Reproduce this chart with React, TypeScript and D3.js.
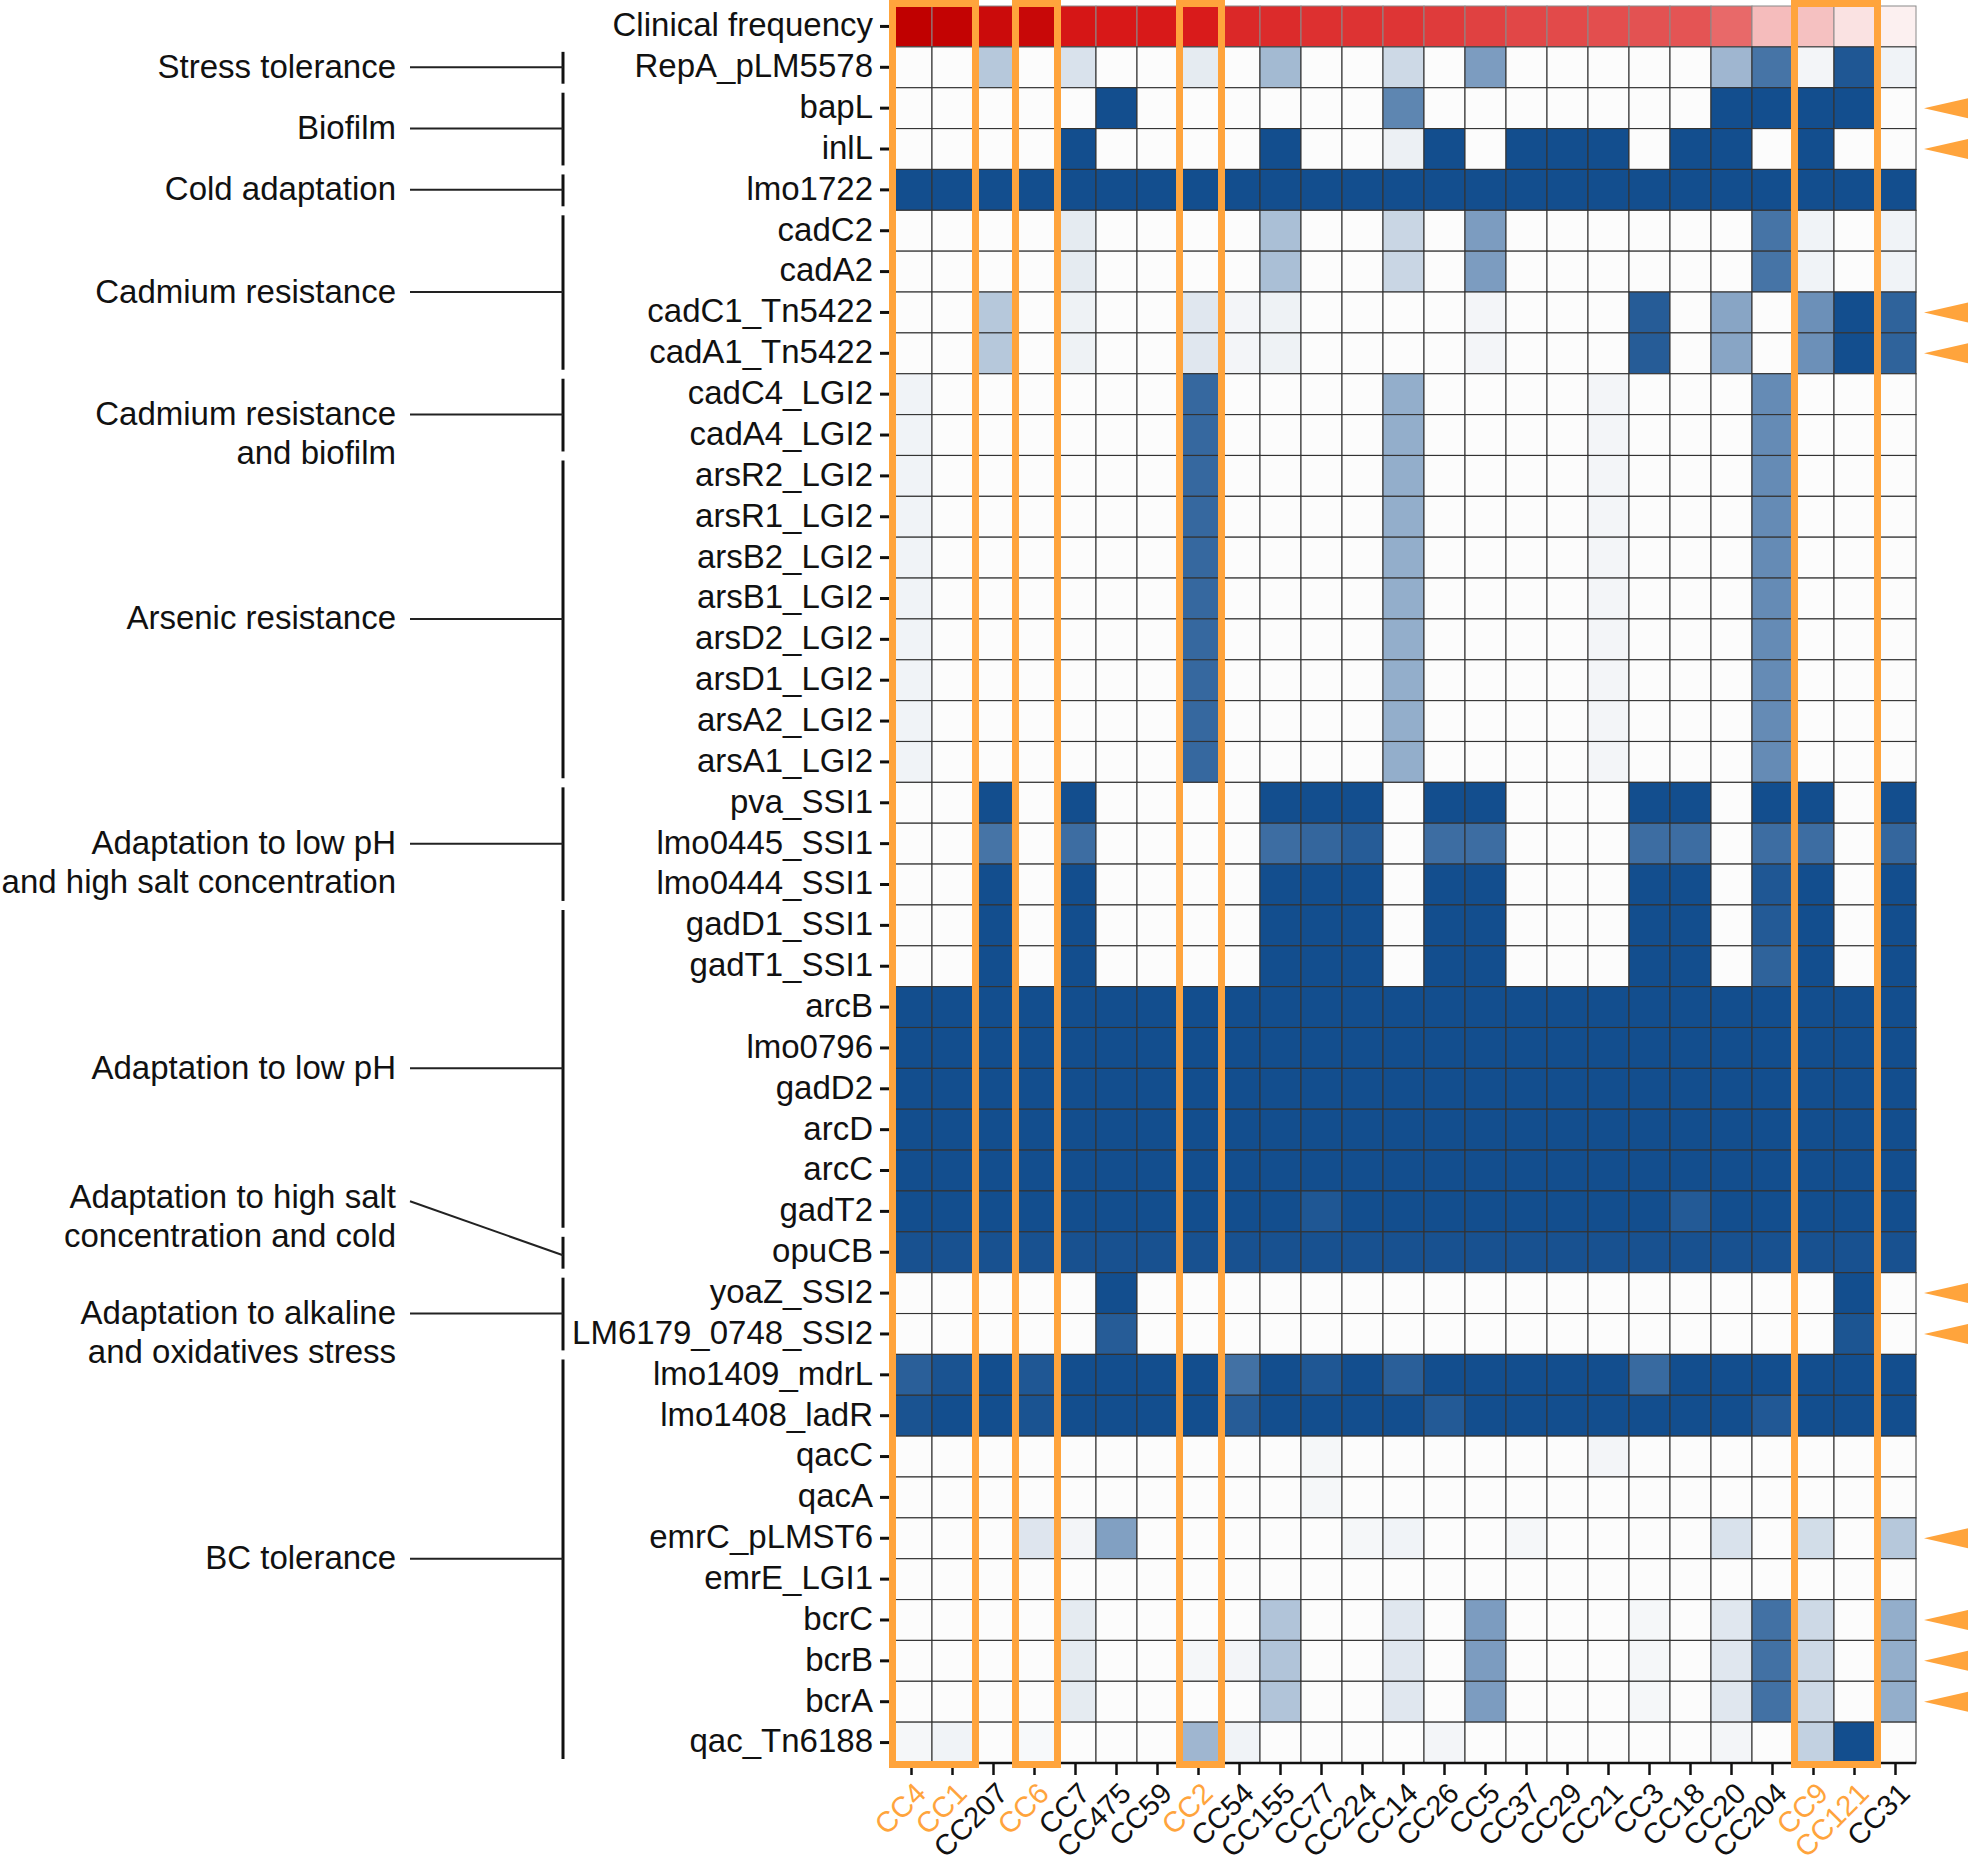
import { useEffect } from 'react'
import * as d3 from 'd3'

const ccs = [
  'CC4', 'CC1', 'CC207', 'CC6', 'CC7', 'CC475', 'CC59', 'CC2', 'CC54', 'CC155',
  'CC77', 'CC224', 'CC14', 'CC26', 'CC5', 'CC37', 'CC29', 'CC21', 'CC3', 'CC18',
  'CC20', 'CC204', 'CC9', 'CC121', 'CC31',
]

const highlightGroups = [['CC4', 'CC1'], ['CC6'], ['CC2'], ['CC9', 'CC121']]

const clinicalFrequency = [
  1.0, 0.98, 0.93, 0.95, 0.86, 0.85, 0.845, 0.84, 0.79, 0.78,
  0.76, 0.75, 0.74, 0.72, 0.69, 0.65, 0.63, 0.6, 0.57, 0.555,
  0.41, 0.16, 0.145, 0.05, 0.01,
]

const genes = [
  'RepA_pLM5578', 'bapL', 'inlL', 'lmo1722', 'cadC2', 'cadA2', 'cadC1_Tn5422', 'cadA1_Tn5422',
  'cadC4_LGI2', 'cadA4_LGI2', 'arsR2_LGI2', 'arsR1_LGI2', 'arsB2_LGI2', 'arsB1_LGI2',
  'arsD2_LGI2', 'arsD1_LGI2', 'arsA2_LGI2', 'arsA1_LGI2', 'pva_SSI1', 'lmo0445_SSI1',
  'lmo0444_SSI1', 'gadD1_SSI1', 'gadT1_SSI1', 'arcB', 'lmo0796', 'gadD2', 'arcD', 'arcC',
  'gadT2', 'opuCB', 'yoaZ_SSI2', 'LM6179_0748_SSI2', 'lmo1409_mdrL', 'lmo1408_ladR',
  'qacC', 'qacA', 'emrC_pLMST6', 'emrE_LGI1', 'bcrC', 'bcrB', 'bcrA', 'qac_Tn6188',
]

const allOnes = [1, 1, 1, 1, 1, 1, 1, 1, 1, 1, 1, 1, 1, 1, 1, 1, 1, 1, 1, 1, 1, 1, 1, 1, 1]
const lgi2 = [0.05, 0, 0, 0, 0, 0, 0, 0.85, 0, 0, 0, 0, 0.45, 0, 0, 0, 0, 0.04, 0, 0, 0, 0.65, 0, 0, 0]
const cad2 = [0, 0, 0, 0, 0.1, 0, 0, 0, 0, 0.35, 0, 0, 0.22, 0, 0.55, 0, 0, 0, 0, 0, 0, 0.78, 0.05, 0, 0.05]
const cad1 = [0, 0, 0.3, 0, 0.06, 0, 0, 0.12, 0.04, 0.06, 0, 0, 0, 0, 0.04, 0, 0, 0, 0.92, 0, 0.5, 0, 0.62, 1, 0.88]
const bcr = [0, 0, 0, 0, 0.1, 0, 0, 0, 0, 0.32, 0, 0, 0.12, 0, 0.55, 0, 0, 0, 0.03, 0, 0.12, 0.8, 0.2, 0, 0.45]

// presence frequency per gene (rows) and clonal complex (columns)
const presence = [
  [0, 0, 0.3, 0, 0.15, 0, 0, 0.1, 0, 0.38, 0, 0, 0.2, 0, 0.55, 0, 0, 0, 0, 0, 0.4, 0.78, 0.04, 0.95, 0.05],
  [0, 0, 0, 0, 0, 1, 0, 0, 0, 0, 0, 0, 0.68, 0, 0, 0, 0, 0, 0, 0, 1, 1, 1, 1, 0],
  [0, 0, 0, 0, 1, 0, 0, 0, 0, 1, 0, 0, 0.07, 1, 0, 1, 1, 1, 0, 1, 1, 0, 1, 0, 0],
  allOnes,
  cad2,
  cad2,
  cad1,
  cad1,
  lgi2, lgi2, lgi2, lgi2, lgi2, lgi2, lgi2, lgi2, lgi2, lgi2,
  [0, 0, 1, 0, 1, 0, 0, 0, 0, 1, 1, 1, 0, 1, 1, 0, 0, 0, 1, 1, 0, 1, 1, 0, 1],
  [0, 0, 0.78, 0, 0.82, 0, 0, 0, 0, 0.82, 0.86, 0.92, 0, 0.82, 0.82, 0, 0, 0, 0.82, 0.82, 0, 0.82, 0.82, 0, 0.86],
  [0, 0, 1, 0, 1, 0, 0, 0, 0, 1, 1, 1, 0, 1, 1, 0, 0, 0, 1, 1, 0, 0.95, 1, 0, 1],
  [0, 0, 1, 0, 1, 0, 0, 0, 0, 1, 1, 1, 0, 1, 1, 0, 0, 0, 1, 1, 0, 0.93, 1, 0, 1],
  [0, 0, 1, 0, 1, 0, 0, 0, 0, 1, 1, 1, 0, 1, 1, 0, 0, 0, 1, 1, 0, 0.88, 1, 0, 1],
  allOnes,
  allOnes,
  allOnes,
  allOnes,
  allOnes,
  [1, 1, 1, 1, 1, 1, 1, 1, 1, 1, 0.95, 1, 1, 1, 1, 1, 1, 1, 1, 0.93, 1, 1, 1, 1, 1],
  [0.98, 0.98, 0.98, 0.98, 0.98, 0.98, 0.98, 0.98, 0.98, 0.98, 0.98, 0.98, 0.98, 0.98, 0.98, 0.98, 0.98, 0.98, 0.98, 0.98, 0.98, 0.98, 0.98, 0.98, 0.98],
  [0, 0, 0, 0, 0, 1, 0, 0, 0, 0, 0, 0, 0, 0, 0, 0, 0, 0, 0, 0, 0, 0, 0, 1, 0],
  [0, 0, 0, 0, 0, 0.92, 0, 0, 0, 0, 0, 0, 0, 0, 0, 0, 0, 0, 0, 0, 0, 0, 0, 0.96, 0],
  [0.9, 0.97, 1, 0.95, 1, 1, 1, 1, 0.8, 1, 0.95, 1, 0.9, 1, 1, 1, 1, 1, 0.84, 1, 1, 1, 1, 1, 1],
  [0.97, 1, 1, 0.97, 1, 1, 1, 1, 0.92, 1, 1, 1, 1, 0.93, 1, 1, 1, 1, 1, 1, 1, 0.94, 1, 1, 1],
  [0, 0, 0, 0, 0, 0, 0, 0, 0, 0, 0.03, 0, 0, 0, 0, 0, 0, 0.04, 0, 0, 0, 0, 0, 0, 0],
  [0, 0, 0, 0, 0, 0, 0, 0, 0, 0, 0.03, 0, 0, 0, 0, 0, 0, 0, 0, 0, 0, 0, 0, 0, 0],
  [0, 0, 0, 0.13, 0.04, 0.53, 0, 0, 0, 0, 0, 0.03, 0.05, 0, 0, 0.03, 0, 0, 0, 0, 0.15, 0, 0.18, 0, 0.3],
  [0, 0, 0, 0, 0, 0, 0, 0, 0, 0, 0, 0, 0, 0, 0, 0, 0, 0, 0, 0, 0, 0, 0, 0, 0],
  bcr,
  [0, 0, 0, 0, 0.1, 0, 0, 0.03, 0.04, 0.32, 0, 0, 0.12, 0, 0.55, 0, 0, 0, 0.03, 0, 0.12, 0.8, 0.2, 0, 0.45],
  bcr,
  [0.03, 0.05, 0, 0.02, 0, 0, 0, 0.4, 0.05, 0, 0, 0, 0, 0.04, 0, 0, 0, 0, 0, 0, 0.04, 0, 0.25, 1, 0],
]

const flaggedGenes = [
  'bapL', 'inlL', 'cadC1_Tn5422', 'cadA1_Tn5422', 'yoaZ_SSI2', 'LM6179_0748_SSI2',
  'emrC_pLMST6', 'bcrC', 'bcrB', 'bcrA',
]

const groupLabels = [
  ['Stress tolerance'],
  ['Biofilm'],
  ['Cold adaptation'],
  ['Cadmium resistance'],
  ['Cadmium resistance', 'and biofilm'],
  ['Arsenic resistance'],
  ['Adaptation to low pH', 'and high salt concentration'],
  ['Adaptation to low pH'],
  ['Adaptation to high salt', 'concentration and cold'],
  ['Adaptation to alkaline', 'and oxidatives stress'],
  ['BC tolerance'],
]
const groupFirst = [
  'RepA_pLM5578', 'bapL', 'lmo1722', 'cadC2', 'cadC4_LGI2', 'arsR2_LGI2', 'pva_SSI1',
  'gadD1_SSI1', 'opuCB', 'yoaZ_SSI2', 'lmo1409_mdrL',
]
const groupLast = [
  'RepA_pLM5578', 'inlL', 'lmo1722', 'cadA1_Tn5422', 'cadA4_LGI2', 'arsA1_LGI2', 'lmo0444_SSI1',
  'gadT2', 'opuCB', 'LM6179_0748_SSI2', 'qac_Tn6188',
]
const offsetGroup = 'Adaptation to high salt'

const W = 1968
const H = 1870
const ORANGE = '#FFA43C'
const FONT = '"Liberation Sans", Arial, Helvetica, sans-serif'

export default function App() {
  useEffect(() => {
    document.body.style.margin = '0'
  }, [])

  const rows = ['Clinical frequency', ...genes]
  const x = d3.scaleBand<string>().domain(ccs).range([891, 1916])
  const y = d3.scaleBand<string>().domain(rows).range([6, 1763])
  const bw = x.bandwidth()
  const bh = y.bandwidth()

  const blue = d3.scaleLinear<string>().domain([0, 1]).range(['#fcfcfc', '#134e8e'])
  const red = d3.scaleLinear<string>()
    .domain([0, 0.4, 0.7, 0.85, 1])
    .range(['#fdf3f3', '#e86a6a', '#e04040', '#d81818', '#c00000'])

  const bottom = y.range()[1]
  const bracketX = 563
  const lineStart = 410
  const labelX = 396

  return (
    <svg width={W} height={H} style={{ position: 'absolute', left: 0, top: 0, background: '#fff' }}
      fontFamily={FONT}>
      {/* clinical frequency row */}
      {ccs.map((cc, i) => (
        <rect key={'cf' + cc} x={x(cc)} y={y('Clinical frequency')} width={bw} height={bh}
          fill={red(clinicalFrequency[i])} stroke="#8a8a8a" strokeWidth={1} />
      ))}

      {/* gene cells */}
      {genes.map((g, r) => ccs.map((cc, i) => (
        <rect key={g + cc} x={x(cc)} y={y(g)} width={bw} height={bh}
          fill={blue(presence[r][i])} stroke="#333" strokeWidth={1.1} />
      )))}

      {/* bottom axis */}
      <line x1={x.range()[0]} x2={x.range()[1]} y1={bottom} y2={bottom} stroke="#111" strokeWidth={2.5} />
      {ccs.map(cc => {
        const cx = (x(cc) as number) + bw / 2
        return <line key={'xt' + cc} x1={cx} x2={cx} y1={bottom} y2={bottom + 12} stroke="#111" strokeWidth={2.5} />
      })}
      {ccs.map(cc => {
        const cx = (x(cc) as number) + bw / 2
        const hl = highlightGroups.some(gr => gr.includes(cc))
        return (
          <text key={'xl' + cc} transform={`translate(${cx + 9},${bottom + 25}) rotate(-45)`}
            textAnchor="end" dy="0.35em" fontSize={29} fill={hl ? ORANGE : '#111'}>{cc}</text>
        )
      })}

      {/* row labels and ticks */}
      {rows.map(r => {
        const cy = (y(r) as number) + bh / 2
        return (
          <g key={'yl' + r}>
            <line x1={880} x2={890} y1={cy} y2={cy} stroke="#111" strokeWidth={3} />
            <text x={873} y={cy} dy="0.3em" textAnchor="end" fontSize={33} fill="#111">{r}</text>
          </g>
        )
      })}

      {/* function groups */}
      {groupLabels.map((lab, k) => {
        const top = y(groupFirst[k]) as number
        const bot = (y(groupLast[k]) as number) + bh
        const mid = (top + bot) / 2
        const diagonal = lab[0] === offsetGroup
        const ly = diagonal ? mid - 55 : mid
        return (
          <g key={'grp' + k}>
            <line x1={bracketX} x2={bracketX} y1={top + 5} y2={bot - 4} stroke="#111" strokeWidth={3} />
            <line x1={lineStart} x2={bracketX} y1={diagonal ? ly + 4 : mid} y2={diagonal ? mid + 3 : mid}
              stroke="#222" strokeWidth={2} />
            {lab.map((t, j) => (
              <text key={t} x={labelX} y={ly + j * 39} dy="0.32em" textAnchor="end" fontSize={33} fill="#111">{t}</text>
            ))}
          </g>
        )
      })}

      {/* highlighted clonal complexes */}
      {highlightGroups.map(gr => {
        const x0 = x(gr[0]) as number
        return (
          <rect key={'hb' + gr.join()} x={x0 + 1.5} y={3.5} width={gr.length * bw + 1} height={bottom - 2}
            fill="none" stroke={ORANGE} strokeWidth={7} />
        )
      })}

      {/* flagged genes */}
      {flaggedGenes.map(g => {
        const cy = (y(g) as number) + bh / 2
        const path = d3.path()
        path.moveTo(1924, cy)
        path.lineTo(1968, cy - 10)
        path.lineTo(1968, cy + 10)
        path.closePath()
        return <path key={'fl' + g} d={path.toString()} fill={ORANGE} />
      })}
    </svg>
  )
}
